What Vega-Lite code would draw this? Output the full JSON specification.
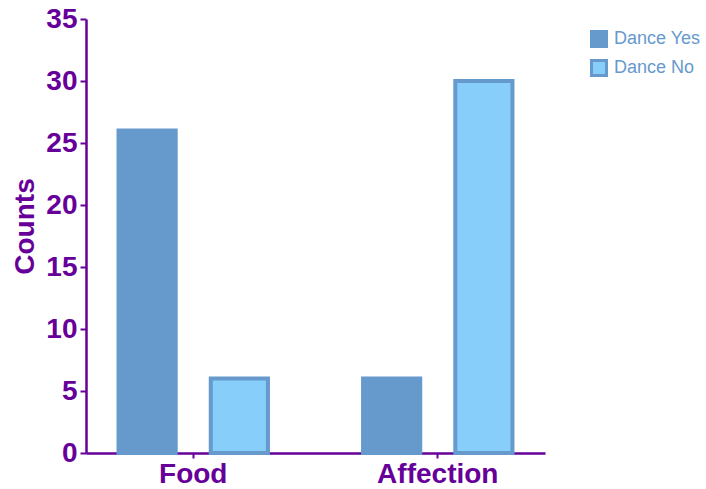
{
  "$schema": "https://vega.github.io/schema/vega-lite/v6.json",
  "autosize": {"type": "none"},
  "padding": {"left": 86, "top": 19, "right": 161, "bottom": 36},
  "width": 459,
  "height": 434,
  "background": "white",
  "data": {
    "values": [
      {"reason": "Food", "dance": "Dance Yes", "count": 26},
      {"reason": "Food", "dance": "Dance No", "count": 6},
      {"reason": "Affection", "dance": "Dance Yes", "count": 6},
      {"reason": "Affection", "dance": "Dance No", "count": 30}
    ]
  },
  "config": {
    "view": {"stroke": null},
    "font": "Liberation Sans"
  },
  "mark": {"type": "bar", "strokeWidth": 4},
  "encoding": {
    "x": {
      "field": "reason",
      "type": "nominal",
      "sort": ["Food", "Affection"],
      "scale": {"paddingInner": 0.389, "paddingOuter": 0.133},
      "axis": {
        "title": null,
        "labelAngle": 0,
        "labelFont": "Liberation Sans",
        "labelFontSize": 28,
        "labelFontWeight": "bold",
        "labelColor": "#660099",
        "domainColor": "#660099",
        "domainWidth": 2.5,
        "tickColor": "#660099",
        "tickWidth": 2,
        "tickSize": 5,
        "labelPadding": 2
      }
    },
    "xOffset": {
      "field": "dance",
      "type": "nominal",
      "sort": ["Dance Yes", "Dance No"],
      "scale": {"paddingInner": 0.38, "paddingOuter": 0}
    },
    "y": {
      "field": "count",
      "type": "quantitative",
      "scale": {"domain": [0, 35], "nice": false},
      "axis": {
        "title": "Counts",
        "titleFont": "Liberation Sans",
        "titleFontSize": 28,
        "titleFontWeight": "bold",
        "titleColor": "#660099",
        "titlePadding": 6,
        "titleY": 207,
        "values": [0, 5, 10, 15, 20, 25, 30, 35],
        "grid": false,
        "labelFont": "Liberation Sans",
        "labelFontSize": 28,
        "labelFontWeight": "bold",
        "labelColor": "#660099",
        "labelPadding": 3,
        "domainColor": "#660099",
        "domainWidth": 2.5,
        "tickColor": "#660099",
        "tickWidth": 2,
        "tickSize": 6
      }
    },
    "color": {
      "field": "dance",
      "type": "nominal",
      "scale": {"domain": ["Dance Yes", "Dance No"], "range": ["#6699CC", "#87CEFA"]},
      "legend": {
        "title": null,
        "orient": "none",
        "legendX": 504,
        "legendY": 11,
        "symbolType": "square",
        "symbolSize": 225,
        "symbolStrokeColor": "#6699CC",
        "symbolStrokeWidth": 3,
        "symbolOpacity": 1,
        "labelFont": "Liberation Sans",
        "labelFontSize": 18,
        "labelColor": "#6699CC",
        "labelOffset": 6,
        "rowPadding": 1
      }
    },
    "stroke": {
      "field": "dance",
      "type": "nominal",
      "scale": {"domain": ["Dance Yes", "Dance No"], "range": ["#6699CC", "#6699CC"]},
      "legend": null
    }
  }
}
